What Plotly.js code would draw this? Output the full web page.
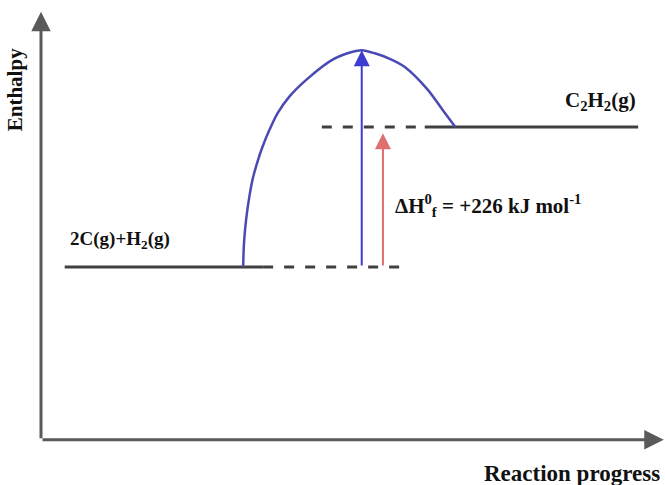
<!DOCTYPE html>
<html><head><meta charset="utf-8">
<script src="https://cdn.plot.ly/plotly-3.0.1.min.js"></script>
<style>html,body{margin:0;padding:0;background:#fff;}#chart{width:665px;height:485px;}</style>
</head><body><div id="chart"></div>
<script>
// Labels
const yAxisLabel = 'Enthalpy';
const xAxisLabel = 'Reaction progress';
const reactantLabel = '2C(g)+H<sub>2</sub>(g)';
const productLabel = 'C<sub>2</sub>H<sub>2</sub>(g)';
const deltaHLabel = '\u0394H<sup>0</sup><sub>f</sub> = +226 kJ mol<sup>-1</sup>';
// Enthalpy levels (kJ/mol, relative to reactants)
const reactantEnthalpy = 0;
const productEnthalpy = 226;
const peakEnthalpy = 350;
// Reaction pathway curve (progress units, enthalpy)
const pathProgress = [32.4, 32.5, 32.7, 33.0, 33.4, 33.9, 34.6, 35.5, 36.6, 37.9, 39.8, 42.5, 46.6, 49.8, 51.4, 53.5, 55.9, 58.3, 62.0, 64.4, 66.4];
const pathEnthalpy = [0, 33, 60, 87, 114, 141, 167, 194, 221, 248, 275, 302, 334, 347, 350, 345, 336, 323, 286, 253, 226];
// Level line extents (progress units)
const reactantSolid = [3.8, 35.6];
const reactantDashed = [35.6, 59.1];
const productDashed = [45.0, 61.5];
const productSolid = [61.5, 95.7];
const peakArrowProgress = 51.4;
const deltaHArrowProgress = 54.8;
const deltaHArrowTop = 216;
const axisOriginEnthalpy = -279;
const axisTopEnthalpy = 412;
const axisEndProgress = 99.8;

const levelColor = '#404040';
const fontFamily = '"Liberation Serif", "DejaVu Serif", serif';

const traces = [
  {x: reactantSolid, y: [reactantEnthalpy, reactantEnthalpy], mode: 'lines', line: {color: levelColor, width: 3}},
  {x: reactantDashed, y: [reactantEnthalpy, reactantEnthalpy], mode: 'lines', line: {color: levelColor, width: 3, dash: '10px,11px'}},
  {x: productDashed, y: [productEnthalpy, productEnthalpy], mode: 'lines', line: {color: levelColor, width: 3, dash: '10px,11px'}},
  {x: productSolid, y: [productEnthalpy, productEnthalpy], mode: 'lines', line: {color: levelColor, width: 3}},
  {x: pathProgress, y: pathEnthalpy, mode: 'lines', line: {color: '#4a4ab4', width: 2.5, shape: 'spline', smoothing: 0.8}}
];

function arrow(x, y, ax, ay, color, width, size) {
  return {x: x, y: y, ax: ax, ay: ay, xref: 'x', yref: 'y', axref: 'x', ayref: 'y', text: '',
    showarrow: true, arrowhead: 2, arrowsize: size, arrowwidth: width, arrowcolor: color, standoff: 0, startstandoff: 0};
}
function label(text, x, y, xanchor, size, angle) {
  return {text: '<b>' + text + '</b>', x: x, y: y, xref: 'paper', yref: 'paper', xanchor: xanchor, yanchor: 'middle',
    showarrow: false, font: {family: fontFamily, size: size, color: '#111', weight: 'bold'}, textangle: angle || 0};
}

const annotations = [
  arrow(0, axisTopEnthalpy, 0, axisOriginEnthalpy, '#5a5a5a', 3, 1.3),
  arrow(axisEndProgress, axisOriginEnthalpy, 0, axisOriginEnthalpy, '#5a5a5a', 3, 1.3),
  arrow(peakArrowProgress, peakEnthalpy, peakArrowProgress, reactantEnthalpy, '#3c3cd0', 2, 1.6),
  arrow(deltaHArrowProgress, deltaHArrowTop, deltaHArrowProgress, reactantEnthalpy, '#e07070', 2, 1.6),
  label(yAxisLabel, 0.0226, 0.814, 'center', 21, -90),
  label(xAxisLabel, 0.860, 0.0247, 'center', 23),
  label(reactantLabel, 0.102, 0.505, 'left', 19),
  label(productLabel, 0.847, 0.792, 'left', 21),
  label(deltaHLabel, 0.591, 0.577, 'left', 21)
];

const layout = {
  width: 665, height: 485, autosize: false,
  margin: {l: 0, r: 0, t: 0, b: 0},
  paper_bgcolor: '#fff', plot_bgcolor: '#fff',
  showlegend: false,
  xaxis: {range: [-6.57, 100], visible: false, fixedrange: true},
  yaxis: {range: [-352, 431], visible: false, fixedrange: true},
  annotations: annotations
};
Plotly.newPlot('chart', traces, layout, {displayModeBar: false, staticPlot: true});
</script></body></html>
